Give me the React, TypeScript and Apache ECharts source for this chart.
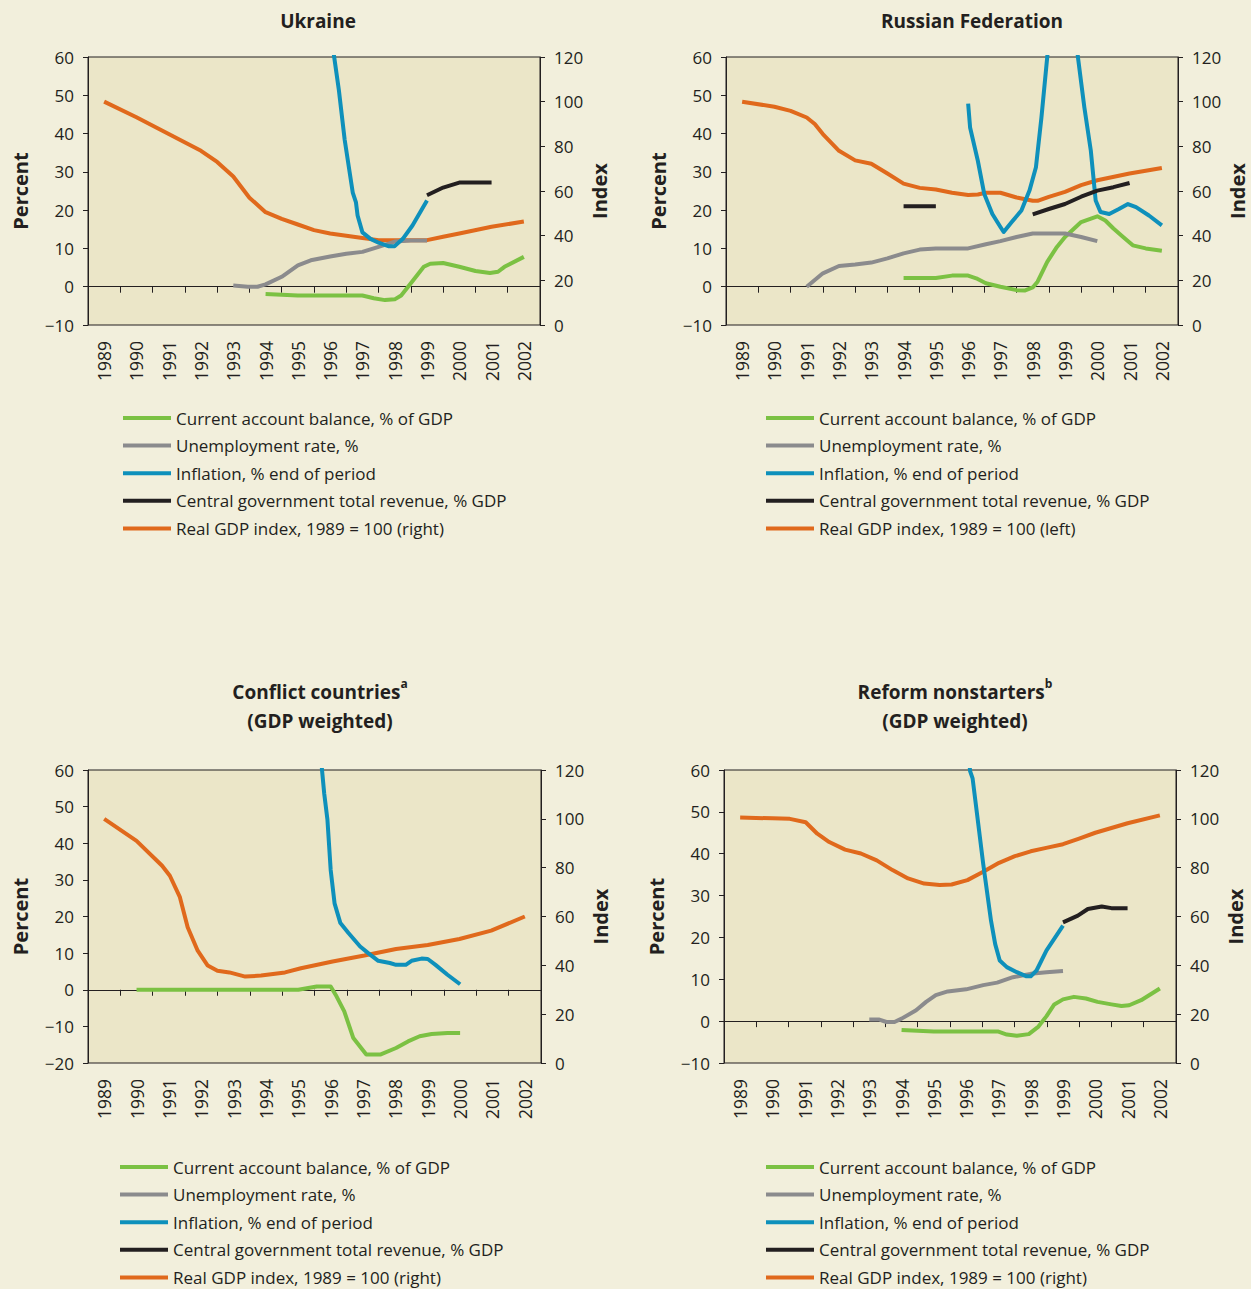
import React, { useEffect, useRef } from "react";
import * as echarts from "echarts";

const YEARS = ["1989","1990","1991","1992","1993","1994","1995","1996","1997","1998","1999","2000","2001","2002"];

const N_CA = "Current account balance, % of GDP";
const N_UN = "Unemployment rate, %";
const N_IN = "Inflation, % end of period";
const N_RV = "Central government total revenue, % GDP";
const N_GDP_R = "Real GDP index, 1989 = 100 (right)";
const N_GDP_L = "Real GDP index, 1989 = 100 (left)";

type P = [number, number | string];

// Ukraine
const ukrCa: P[] = [[1994,-1.9],[1995,-2.3],[1996,-2.3],[1997,-2.3],[1997.35,-3],[1997.7,-3.5],[1998,-3.3],[1998.2,-2.3],[1998.5,0.9],[1998.9,5.2],[1999.1,6],[1999.5,6.2],[2000,5.2],[2000.5,4.1],[2000.95,3.6],[2001.2,3.9],[2001.4,5.2],[2002,7.8]];
const ukrUnemp: P[] = [[1993,0.3],[1993.45,0],[1993.75,0],[1994,0.6],[1994.5,2.6],[1995,5.6],[1995.4,6.9],[1996,7.9],[1996.5,8.6],[1997,9.1],[1997.5,10.4],[1998,11.8],[1998.5,12.1],[1999,12.1]];
const ukrInfl: P[] = [[1996.0,67],[1996.12,60.3],[1996.27,51.4],[1996.45,38.4],[1996.7,24.6],[1996.8,22],[1996.85,18.6],[1997,14.2],[1997.25,12.5],[1997.5,11.5],[1997.8,10.6],[1998,10.6],[1998.25,12.5],[1998.55,16],[1999,22.5]];
const ukrRev: P[] = [[1999,23.9],[1999.5,25.9],[2000,27.2],[2000.5,27.2],[2001,27.2]];
const ukrGdp: P[] = [[1989,100],[1990,93],[1991,85.5],[1992,78],[1992.5,73],[1993,66.5],[1993.5,57],[1994,50.5],[1994.5,47.5],[1995,45],[1995.5,42.5],[1996,41],[1997,39],[1997.5,38],[1998,38],[1999,38],[1999.5,39.5],[2000,41],[2001,44],[2002,46.3]];

// Russian Federation
const rusCa: P[] = [[1994,2.3],[1995,2.3],[1995.5,2.9],[1996,2.9],[1996.25,2.2],[1996.55,0.9],[1997,0],[1997.5,-0.9],[1997.75,-1],[1998,-0.2],[1998.15,1.3],[1998.45,6.5],[1998.75,10.4],[1999,13],[1999.5,16.9],[2000,18.4],[2000.25,17.3],[2000.5,15.2],[2000.8,13],[2001.1,10.8],[2001.5,10],[2002,9.4]];
const rusUnemp: P[] = [[1991,0],[1991.5,3.5],[1992,5.4],[1992.5,5.8],[1993,6.3],[1993.5,7.4],[1994,8.7],[1994.5,9.7],[1995,10],[1996,10],[1996.55,11.1],[1997,11.9],[1997.5,13],[1998,13.9],[1998.5,13.9],[1999,13.9],[1999.5,13],[2000,11.9]];
const rusInfl: P[] = [[1996,47.8],[1996.06,41.6],[1996.3,32.9],[1996.5,24.2],[1996.75,19],[1997,15.6],[1997.1,14.3],[1997.35,16.9],[1997.65,19.9],[1997.9,25.1],[1998.1,31.2],[1998.27,44.2],[1998.45,60],[1998.6,72],[1999.25,72],[1999.4,60],[1999.6,46.8],[1999.8,35.5],[1999.95,22.5],[2000.1,19.5],[2000.37,19],[2000.67,20.3],[2000.95,21.6],[2001.2,20.8],[2001.6,18.6],[2002,16]];
const rusRev: P[] = [[1994,21],[1995,21],[1996,"-"],[1998,18.9],[1998.5,20.3],[1999,21.6],[1999.5,23.5],[2000,25.1],[2000.5,26],[2001,27.1]];
const rusGdp: P[] = [[1989,100],[1990,97.7],[1990.5,95.9],[1991,92.9],[1991.25,90],[1991.5,85.5],[1992,78],[1992.5,73.7],[1993,72.2],[1993.5,67.8],[1994,63.3],[1994.5,61.4],[1995,60.7],[1995.5,59.2],[1996,58.2],[1996.3,58.4],[1996.55,59.2],[1997,59.2],[1997.5,57.1],[1998,55.6],[1998.15,55.6],[1998.5,57.4],[1999,59.6],[1999.5,62.6],[2000,64.8],[2001,67.8],[2002,70.3]];

// Conflict countries
const conCa: P[] = [[1990,0],[1995,0],[1995.57,0.9],[1996,0.9],[1996.18,-1.8],[1996.42,-5.9],[1996.7,-13.2],[1997.1,-17.7],[1997.53,-17.7],[1998.02,-15.9],[1998.39,-14.1],[1998.75,-12.7],[1999.12,-12.1],[1999.61,-11.8],[2000,-11.8]];
const conInfl: P[] = [[1995.68,68],[1995.73,60.2],[1995.8,53.6],[1995.9,46.4],[1996,32.7],[1996.12,23.6],[1996.3,18.2],[1996.55,15.5],[1996.91,11.8],[1997.16,10],[1997.47,7.9],[1997.83,7.3],[1998.02,6.8],[1998.32,6.8],[1998.5,7.9],[1998.81,8.5],[1999,8.4],[1999.24,6.8],[1999.61,4.1],[2000,1.5]];
const conGdp: P[] = [[1989,100],[1990,91],[1990.79,80.8],[1991.03,76.7],[1991.34,67.9],[1991.58,55.6],[1991.89,46],[1992.2,39.9],[1992.5,37.8],[1992.87,37.1],[1993.36,35.4],[1993.85,35.8],[1994.59,37.1],[1995.08,38.8],[1996.06,41.6],[1997.04,44],[1998.02,46.7],[1999,48.3],[1999.98,50.8],[2000.96,54.2],[2002,60]];

// Reform nonstarters
const refCa: P[] = [[1994,-2.1],[1995,-2.5],[1996,-2.5],[1997,-2.5],[1997.26,-3.2],[1997.57,-3.5],[1997.94,-3.1],[1998.24,-1.3],[1998.49,1.2],[1998.73,4],[1999,5.2],[1999.34,5.8],[1999.71,5.4],[2000.07,4.6],[2000.5,4],[2000.81,3.6],[2001.05,3.8],[2001.42,5],[2002,7.8]];
const refUnemp: P[] = [[1993,0.4],[1993.29,0.4],[1993.53,-0.2],[1993.78,-0.2],[1994,0.6],[1994.45,2.6],[1994.76,4.6],[1995.06,6.2],[1995.43,7.1],[1996,7.6],[1996.53,8.6],[1996.96,9.2],[1997.45,10.5],[1998,11.3],[1998.49,11.7],[1999,12]];
const refInfl: P[] = [[1996.05,68],[1996.12,59.8],[1996.2,58],[1996.34,49.3],[1996.53,37.5],[1996.77,24],[1996.9,18.4],[1997.04,14.5],[1997.26,12.9],[1997.57,11.7],[1997.87,10.7],[1998,10.7],[1998.18,12.1],[1998.49,16.9],[1999,22.8]];
const refRev: P[] = [[1999,23.6],[1999.46,25.2],[1999.77,26.8],[2000.2,27.4],[2000.5,27],[2001,27]];
const refGdp: P[] = [[1989,100.5],[1990,100.2],[1990.54,100],[1991.03,98.6],[1991.39,93.9],[1991.76,90.5],[1992.25,87.4],[1992.74,85.8],[1993.23,83],[1993.72,79],[1994.2,75.6],[1994.7,73.5],[1995.18,72.9],[1995.55,73.1],[1996.04,74.9],[1996.53,78.3],[1997.02,82],[1997.51,84.7],[1998,86.7],[1998.48,88.1],[1999,89.6],[1999.5,91.9],[2000,94.3],[2001,98.2],[2002,101.4]];

const LEFT_TICKS_A = [-10, 60];
const LEFT_TICKS_B = [-20, 60];
const RIGHT_TICKS = [0, 120];

const C_GREEN = "#7bc143";
const C_GRAY = "#8b8b8d";
const C_BLUE = "#0e90bb";
const C_BLACK = "#231f20";
const C_ORANGE = "#e0691c";
const DARK = "#231f20";
const PAGE_BG = "#f2efdc";
const PLOT_BG = "#ebe6c8";
const FONT = "'Open Sans', 'DejaVu Sans', sans-serif";

type Panel = {
  title: string;
  tx: number;
  ty: number;
  grid: { left: number; top: number; width: number; height: number };
  yRange: number[];
  legendLeft: number;
  legendTop: number;
  gdpName: string;
  lines: { name: string; data: P[]; color: string; right?: boolean }[];
};

const panels: Panel[] = [
  {
    title: "{t|Ukraine}", tx: 318, ty: 21,
    grid: { left: 88, top: 57, width: 452, height: 268 },
    yRange: LEFT_TICKS_A, legendLeft: 123, legendTop: 408, gdpName: N_GDP_R,
    lines: [
      { name: N_CA, data: ukrCa, color: C_GREEN },
      { name: N_UN, data: ukrUnemp, color: C_GRAY },
      { name: N_IN, data: ukrInfl, color: C_BLUE },
      { name: N_RV, data: ukrRev, color: C_BLACK },
      { name: N_GDP_R, data: ukrGdp, color: C_ORANGE, right: true },
    ],
  },
  {
    title: "{t|Russian Federation}", tx: 972, ty: 21,
    grid: { left: 726, top: 57, width: 452, height: 268 },
    yRange: LEFT_TICKS_A, legendLeft: 766, legendTop: 408, gdpName: N_GDP_L,
    lines: [
      { name: N_CA, data: rusCa, color: C_GREEN },
      { name: N_UN, data: rusUnemp, color: C_GRAY },
      { name: N_IN, data: rusInfl, color: C_BLUE },
      { name: N_RV, data: rusRev, color: C_BLACK },
      { name: N_GDP_L, data: rusGdp, color: C_ORANGE, right: true },
    ],
  },
  {
    title: "{t|Conflict countries}{s|a}\n{t|(GDP weighted)}", tx: 320, ty: 706,
    grid: { left: 88, top: 770, width: 453, height: 293 },
    yRange: LEFT_TICKS_B, legendLeft: 120, legendTop: 1157, gdpName: N_GDP_R,
    lines: [
      { name: N_CA, data: conCa, color: C_GREEN },
      { name: N_IN, data: conInfl, color: C_BLUE },
      { name: N_GDP_R, data: conGdp, color: C_ORANGE, right: true },
    ],
  },
  {
    title: "{t|Reform nonstarters}{s|b}\n{t|(GDP weighted)}", tx: 955, ty: 706,
    grid: { left: 724, top: 770, width: 452, height: 293 },
    yRange: LEFT_TICKS_A, legendLeft: 766, legendTop: 1157, gdpName: N_GDP_R,
    lines: [
      { name: N_CA, data: refCa, color: C_GREEN },
      { name: N_UN, data: refUnemp, color: C_GRAY },
      { name: N_IN, data: refInfl, color: C_BLUE },
      { name: N_RV, data: refRev, color: C_BLACK },
      { name: N_GDP_R, data: refGdp, color: C_ORANGE, right: true },
    ],
  },
];

function buildOption() {
  const grid: any[] = [];
  const xAxis: any[] = [];
  const yAxis: any[] = [];
  const series: any[] = [];
  const legend: any[] = [];
  const graphic: any[] = [];
  const labelStyle = { fontSize: 17, color: DARK, fontFamily: FONT };

  panels.forEach((p, g) => {
    grid.push({ ...p.grid, show: true, backgroundColor: PLOT_BG, borderColor: DARK, borderWidth: 1, containLabel: false });
    // zero line with ticks at year boundaries
    xAxis.push({
      type: "category", gridIndex: g, position: "top", data: YEARS, boundaryGap: true,
      axisLine: { show: true, onZero: true, onZeroAxisIndex: 2 * g, lineStyle: { color: DARK, width: 1 } },
      axisTick: { show: true, inside: true, length: 6, interval: 0, lineStyle: { color: DARK, width: 1 } },
      axisLabel: { show: false }, splitLine: { show: false },
    });
    // year labels at the bottom
    xAxis.push({
      type: "category", gridIndex: g, position: "bottom", data: YEARS, boundaryGap: true,
      axisLine: { show: false, onZero: false }, axisTick: { show: false },
      axisLabel: { ...labelStyle, fontSize: 17.5, interval: 0, rotate: 90, margin: 16 }, splitLine: { show: false },
    });
    // hidden value axis for data
    xAxis.push({
      type: "value", gridIndex: g, position: "bottom", show: false, min: 1988.5, max: 2002.5,
      axisLine: { onZero: false }, splitLine: { show: false },
    });
    yAxis.push({
      type: "value", gridIndex: g, position: "left", min: p.yRange[0], max: p.yRange[1], interval: 10,
      axisLine: { show: true, onZero: false, lineStyle: { color: DARK, width: 1 } },
      axisTick: { show: true, length: 5, lineStyle: { color: DARK } },
      axisLabel: { ...labelStyle, margin: 14, formatter: (v: number) => (v < 0 ? "\u2212" + Math.abs(v) : String(v)) },
      splitLine: { show: false },
      name: "Percent", nameLocation: "middle", nameRotate: 90, nameGap: 58,
      nameTextStyle: { fontSize: 20, fontWeight: "bold", color: DARK, fontFamily: FONT },
    });
    yAxis.push({
      type: "value", gridIndex: g, position: "right", min: RIGHT_TICKS[0], max: RIGHT_TICKS[1], interval: 20,
      axisLine: { show: true, onZero: false, lineStyle: { color: DARK, width: 1 } },
      axisTick: { show: true, length: 5, lineStyle: { color: DARK } },
      axisLabel: { ...labelStyle, margin: 14 },
      splitLine: { show: false },
      name: "Index", nameLocation: "middle", nameRotate: 90, nameGap: 49,
      nameTextStyle: { fontSize: 20, fontWeight: "bold", color: DARK, fontFamily: FONT },
    });
    p.lines.forEach((l) => {
      series.push({
        type: "line", name: l.name, data: l.data, xAxisIndex: 3 * g + 2, yAxisIndex: 2 * g + (l.right ? 1 : 0),
        symbol: "none", showSymbol: false, clip: true, silent: true, connectNulls: false,
        lineStyle: { width: 4, color: l.color, cap: "butt", join: "round" },
        itemStyle: { color: l.color }, z: l.right ? 2 : 3,
      });
    });
    legend.push({
      orient: "vertical", left: p.legendLeft, top: p.legendTop, padding: 0,
      itemWidth: 48, itemHeight: 4, itemGap: 7.6, icon: "rect", selectedMode: false,
      data: [N_CA, N_UN, N_IN, N_RV, p.gdpName],
      textStyle: { fontSize: 17, lineHeight: 20, color: DARK, fontFamily: FONT },
    });
    graphic.push({
      type: "text", x: p.tx, y: p.ty, silent: true,
      style: {
        text: p.title, align: "center", verticalAlign: "middle", textAlign: "center", textVerticalAlign: "middle",
        rich: {
          t: { fontFamily: FONT, fontSize: 19, fontWeight: "bold", lineHeight: 29, fill: DARK },
          s: { fontFamily: FONT, fontSize: 12, fontWeight: "bold", lineHeight: 16, verticalAlign: "top", fill: DARK },
        },
      },
    });
  });

  return { animation: false, backgroundColor: PAGE_BG, grid, xAxis, yAxis, series, legend, graphic };
}

export default function App() {
  const ref = useRef<HTMLDivElement>(null);
  useEffect(() => {
    document.body.style.margin = "0";
    document.body.style.background = PAGE_BG;
    if (!ref.current) return;
    const chart = echarts.init(ref.current, undefined, { renderer: "svg" });
    chart.setOption(buildOption() as any);
    return () => chart.dispose();
  }, []);
  return <div ref={ref} style={{ width: 1251, height: 1289 }} />;
}
